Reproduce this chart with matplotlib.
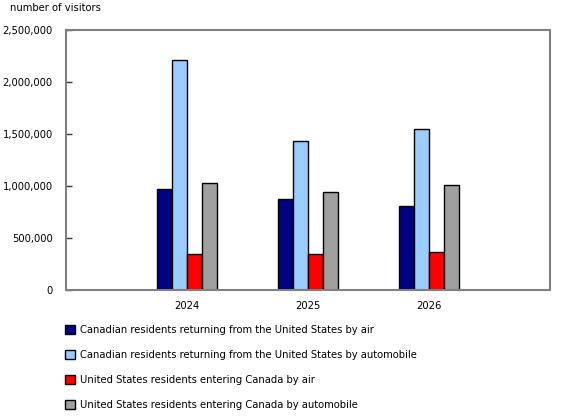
import matplotlib
matplotlib.use("Agg")
import matplotlib.pyplot as plt
import numpy as np
from matplotlib.ticker import FuncFormatter

plt.rcParams['font.family'] = ['DejaVu Sans']

years = ["2024", "2025", "2026"]
series_names = [
    "Canadian residents returning from the United States by air",
    "Canadian residents returning from the United States by automobile",
    "United States residents entering Canada by air",
    "United States residents entering Canada by automobile",
]
can_air = [970000, 872000, 811000]
can_auto = [2210000, 1433000, 1548000]
us_air = [343000, 343000, 368000]
us_auto = [1026000, 939000, 1008000]
colors = ["#000080", "#99ccff", "#ff0000", "#a0a0a0"]

FS = 7.2

fig = plt.figure(figsize=(5.8, 4.2), dpi=100)
ax = fig.add_axes([66/580, 1-290/420, (550-66)/580, (290-30)/420])

x = np.arange(1, len(years) + 1)
w = 0.125
all_series = [can_air, can_auto, us_air, us_auto]
handles = []
for i, (vals, c) in enumerate(zip(all_series, colors)):
    offs = (i - 1.5) * w
    b = ax.bar(x + offs, vals, width=w, color=c, edgecolor="black", linewidth=1.0,
               label=series_names[i], zorder=2)
    handles.append(b)

ax.set_xlim(0, 4)
ax.set_ylim(0, 2500000)
ax.set_yticks(np.arange(0, 2500001, 500000))
ax.yaxis.set_major_formatter(FuncFormatter(lambda v, p: f"{int(v):,}"))
ax.set_xticks(x)
ax.set_xticklabels(years)
ax.tick_params(axis='y', direction='in', length=4, width=1, color='#333333',
               labelsize=FS, pad=9.5)
ax.tick_params(axis='x', length=0, labelsize=FS, pad=8)
for s in ax.spines.values():
    s.set_color('#808080')
    s.set_linewidth(1.5)

fig.text(10/580, 1-8/420, "number of visitors", fontsize=FS, va='center', ha='left')

leg = fig.legend(handles=handles, loc='upper left', bbox_to_anchor=(61/580, 1-321/420),
                 frameon=False, fontsize=FS, handlelength=1.0, handleheight=1.0,
                 labelspacing=1.5, handletextpad=0.5, borderaxespad=0)

fig.savefig("out.png", dpi=100)
